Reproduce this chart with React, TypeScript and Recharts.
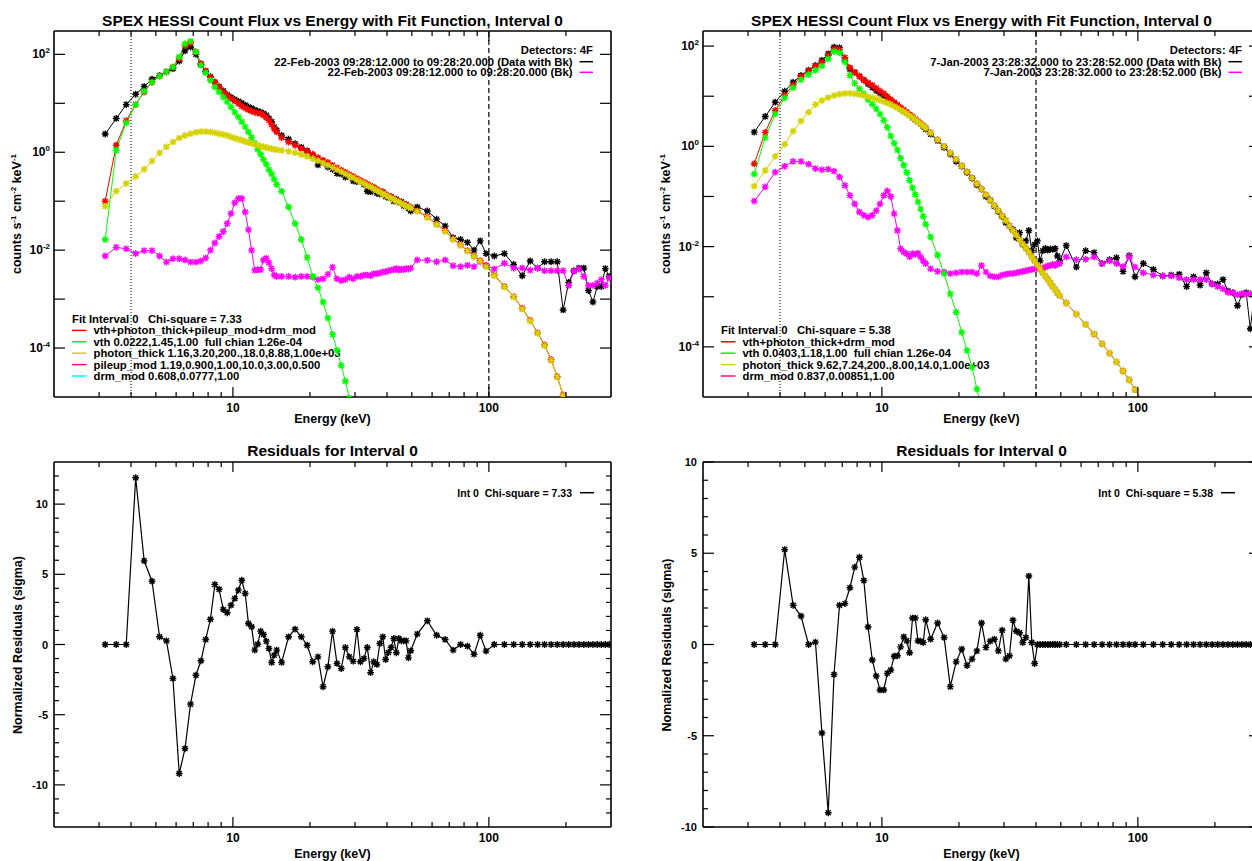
import React from "react";
import { LineChart, Line, XAxis, YAxis, ReferenceLine } from "recharts";

// energy bin centres (keV), shared by all four panels
const energy = [
  3.17, 3.5, 3.83, 4.17, 4.5, 4.83, 5.17, 5.5, 5.83, 6.17, 6.5, 6.83,
  7.17, 7.5, 7.83, 8.17, 8.5, 8.83, 9.17, 9.5, 9.83, 10.17, 10.5, 10.83,
  11.17, 11.5, 11.83, 12.17, 12.5, 12.83, 13.17, 13.5, 13.83, 14.17, 14.5, 14.83,
  15.5, 16.5, 17.5, 18.5, 19.5, 20.5, 21.5, 22.5, 23.5, 24.5,
  25.5, 26.5, 27.5, 28.5, 29.5, 30.5, 31.5, 32.5, 33.5, 34.5,
  35.5, 36.5, 37.5, 38.5, 39.5, 40.5, 41.5, 42.5, 43.5, 44.5,
  45.5, 46.5, 47.5, 48.5, 49.5,
  52.5, 57.5, 62.5, 67.5, 72.5, 77.5, 82.5, 87.5, 92.5, 97.5,
  105, 115, 125, 135, 145, 155, 165, 175, 185, 195,
  205, 215, 225, 235, 245, 255, 265, 275, 285, 295,
];

// 22-Feb-2003 interval (left column)
const febData = [
  2.36, 4.9, 9.4, 15.3, 22, 31, 37, 44, 51, 73, 118, 141,
  100, 62, 45, 35, 27, 22, 18, 15, 13.3, 12, 11, 10.1,
  9.2, 8.4, 7.9, 7.3, 6.9, 6.6, 6.2, 5.7, 4.9, 4.2, 3.3, 2.8,
  2.2, 1.85, 1.5, 1.26, 1.07, 0.87, 0.55, 0.62, 0.5, 0.45,
  0.37, 0.36, 0.31, 0.33, 0.26, 0.25, 0.26, 0.22, 0.16, 0.155,
  0.19, 0.145, 0.14, 0.155, 0.125, 0.118, 0.124, 0.1, 0.11, 0.094,
  0.098, 0.08, 0.086, 0.072, 0.063,
  0.076, 0.063, 0.043, 0.031, 0.018, 0.0166, 0.0144, 0.01, 0.0155, 0.0085,
  0.0076, 0.0085, 0.0051, 0.003, 0.006, 0.0043, 0.0058, 0.0058, 0.0058, 0.0006,
  0.0022, 0.0038, 0.0043, 0.0043, 0.0015, 0.00087, 0.0018, 0.0018, 0.0042, 0.0029,
];
const febModel = [
  0.1, 1.39, 4.4, 9.5, 17, 27, 36, 44, 55, 82, 152, 170,
  112, 65, 46, 34, 27, 21.5, 17, 14.5, 12.5, 11.2, 9.9, 8.7,
  8.0, 7.4, 6.9, 6.6, 6.3, 6.2, 5.7, 5.1, 4.5, 3.7, 3.0, 2.6,
  2.0, 1.62, 1.39, 1.19, 1.05, 0.91, 0.78, 0.69, 0.62, 0.54,
  0.48, 0.43, 0.39, 0.35, 0.32, 0.29, 0.265, 0.245, 0.225, 0.207,
  0.19, 0.175, 0.162, 0.15, 0.139, 0.129, 0.12, 0.112, 0.105, 0.099,
  0.093, 0.088, 0.083, 0.079, 0.075,
  0.064, 0.048, 0.034, 0.025, 0.017, 0.0128, 0.0098, 0.0076, 0.0061, 0.0048,
  0.0031, 0.0018, 0.00112, 0.00065, 0.00037, 0.000205, 0.000116, 0.000058, 0.000026, 0.000011,
  0.0000047,
];
const febVth = [
  0.0165, 1.1, 4.0, 9.4, 17.8, 27, 36, 44, 55, 88, 165, 185,
  112, 60, 42, 29.5, 21.5, 17, 13.5, 10.7, 8.4, 6.6, 5.3, 4.2,
  3.3, 2.6, 2.0, 1.52, 1.15, 0.91, 0.71, 0.57, 0.44, 0.36, 0.28, 0.22,
  0.16, 0.076, 0.035, 0.0165, 0.0071, 0.0029, 0.0017, 0.00087, 0.00041, 0.00019,
  0.00009, 0.000044, 0.000021, 0.0000095, 0.000004,
];
const febThick = [
  0.079, 0.16, 0.23, 0.32, 0.45, 0.66, 0.97, 1.29, 1.62, 1.95, 2.2, 2.4,
  2.55, 2.65, 2.65, 2.6, 2.5, 2.4, 2.3, 2.2, 2.05, 1.94, 1.84, 1.76,
  1.66, 1.59, 1.52, 1.45, 1.39, 1.33, 1.28, 1.25, 1.21, 1.18, 1.15, 1.13,
  1.09, 1.04, 0.98, 0.9, 0.82, 0.74, 0.67, 0.6, 0.54, 0.49,
  0.44, 0.4, 0.36, 0.33, 0.3, 0.27, 0.25, 0.23, 0.21, 0.195,
  0.18, 0.165, 0.153, 0.142, 0.132, 0.123, 0.115, 0.108, 0.101, 0.095,
  0.09, 0.085, 0.08, 0.076, 0.072,
  0.062, 0.046, 0.033, 0.024, 0.0165, 0.0125, 0.0095, 0.0074, 0.0059, 0.0046,
  0.003, 0.00175, 0.0011, 0.00063, 0.00036, 0.0002, 0.000112, 0.000056, 0.0000255, 0.0000107,
  0.0000045,
];
const febBk = [
  0.0076, 0.0114, 0.0107, 0.0085, 0.0098, 0.0098, 0.0076, 0.0057, 0.0067, 0.0067, 0.0063, 0.0057,
  0.0057, 0.006, 0.0069, 0.01, 0.014, 0.019, 0.024, 0.035, 0.056, 0.093, 0.114, 0.114,
  0.06, 0.026, 0.01, 0.0039, 0.004, 0.004, 0.0063, 0.0068, 0.0055, 0.0042, 0.0031, 0.0029,
  0.0029, 0.0029, 0.0028, 0.0029, 0.0029, 0.0028, 0.0025, 0.0026, 0.0032, 0.0045,
  0.0026, 0.0024, 0.0025, 0.0028, 0.0026, 0.0029, 0.0029, 0.0031, 0.0031, 0.003,
  0.0033, 0.0033, 0.0034, 0.0036, 0.0036, 0.0038, 0.0039, 0.004, 0.0042, 0.0039,
  0.0041, 0.004, 0.0042, 0.0041, 0.0043,
  0.0063, 0.0062, 0.0058, 0.0063, 0.0048, 0.0046, 0.0049, 0.0046, 0.0058, 0.0049,
  0.0041, 0.0054, 0.0043, 0.0043, 0.0039, 0.0043, 0.0038, 0.0038, 0.0038, 0.0038,
  0.0019, 0.0037, 0.0041, 0.0029, 0.0019, 0.0019, 0.0021, 0.0025, 0.0019, 0.0027,
];
const febResid = [
  0, 0, 0, 11.88, 5.96, 4.51, 0.55, 0.26, -2.42, -9.19, -7.41, -4.25,
  -2.19, -1.16, 0.36, 1.8, 4.28, 3.94, 2.49, 2.26, 2.8, 3.28, 3.87, 4.58,
  3.63, 1.5, 1.26, -0.4, 0.02, 0.95, 0.71, 0.24, -0.29, -1.28, -0.76, -0.4,
  -1.28, 0.55, 1.09, 0.55, -0.05, -1.23, -0.88, -3.01, -1.59, 0.95,
  -1.35, -1.71, -0.21, -0.88, -1.19, 1.07, -1.23, -1.0, -0.21, -2.0,
  -1.23, -1.42, 0.07, 0.55, -1.07, -0.57, -0.21, 0.43, -0.59, 0.43,
  0.26, 0.26, 0.26, -0.95, -0.45,
  0.74, 1.69, 0.66, 0.36, -0.4, 0, -0.12, -0.69, 0.66, -0.47,
  0, 0, 0, 0, 0, 0, 0, 0, 0, 0,
  0, 0, 0, 0, 0, 0, 0, 0, 0, 0,
];

// 7-Jan-2003 interval (right column)
const janData = [
  1.92, 3.95, 7.6, 12.6, 19, 26, 33, 41, 52, 70, 95, 93,
  52, 35, 30, 25, 21, 17.5, 15, 13, 11.6, 10.2, 9.0, 7.9,
  7.0, 6.3, 5.6, 5.0, 4.6, 4.2, 3.7, 3.4, 3.1, 2.8, 2.5, 2.2,
  1.75, 1.3, 0.95, 0.7, 0.5, 0.4, 0.3, 0.23, 0.17, 0.14,
  0.1, 0.085, 0.064, 0.05, 0.04, 0.03, 0.026, 0.022, 0.015, 0.019,
  0.011, 0.013, 0.021, 0.0083, 0.011, 0.013, 0.0052, 0.0083, 0.0092, 0.0085,
  0.009, 0.0088, 0.0092, 0.0065, 0.0052,
  0.0105, 0.0039, 0.0083, 0.0076, 0.0046, 0.0055, 0.006, 0.0032, 0.0066, 0.0025,
  0.0046, 0.0035, 0.0026, 0.0027, 0.0028, 0.0016, 0.0025, 0.0017, 0.003, 0.0018,
  0.0018, 0.0022, 0.0013, 0.0012, 0.00066, 0.0011, 0.0012, 0.00023, 0.0011, 0.0009,
];
const janModel = [
  0.45, 1.9, 5.2, 10.4, 16.8, 24.7, 32, 40, 48, 65, 88, 85,
  59, 37, 30, 25, 21, 18.6, 16.5, 14.4, 12.7, 11.3, 9.9, 8.6,
  7.6, 6.75, 5.96, 5.36, 4.82, 4.33, 3.92, 3.52, 3.18, 2.86, 2.6, 2.34,
  1.87, 1.36, 1.0, 0.74, 0.55, 0.41, 0.31, 0.235, 0.18, 0.14,
  0.108, 0.084, 0.066, 0.052, 0.041, 0.033, 0.026, 0.021, 0.017, 0.0138,
  0.0113, 0.0093, 0.0077, 0.0063, 0.0052, 0.0043, 0.0036, 0.003, 0.0026, 0.0022,
  0.0019, 0.0016, 0.0014, 0.0012, 0.00105,
  0.00075, 0.00045, 0.00028, 0.00018, 0.000115, 0.000075, 0.00005, 0.000033, 0.000022, 0.000014,
  0.000008,
];
const janVth = [
  0.28, 1.5, 4.4, 9.3, 14.8, 21.5, 27, 33, 40, 56, 78, 74,
  48, 26, 18, 14, 11.2, 8.6, 6.9, 5.6, 4.4, 3.3, 2.4, 1.6,
  1.15, 0.85, 0.58, 0.42, 0.3, 0.21, 0.15, 0.11, 0.078, 0.056, 0.04, 0.028,
  0.0155, 0.0068, 0.0029, 0.00114, 0.00049, 0.000195, 0.000085, 0.000039, 0.0000144, 0.000006,
];
const janThick = [
  0.16, 0.33, 0.63, 1.1, 2.0, 3.2, 4.8, 6.8, 8.2, 9.4, 10.3, 11.0,
  11.3, 11.4, 11.2, 10.8, 10.3, 9.8, 9.3, 8.8, 8.3, 7.8, 7.3, 6.8,
  6.3, 5.8, 5.3, 4.9, 4.5, 4.1, 3.75, 3.4, 3.1, 2.8, 2.55, 2.3,
  1.85, 1.35, 1.0, 0.74, 0.55, 0.41, 0.31, 0.235, 0.18, 0.14,
  0.108, 0.084, 0.066, 0.052, 0.041, 0.033, 0.026, 0.021, 0.017, 0.0138,
  0.0113, 0.0093, 0.0077, 0.0063, 0.0052, 0.0043, 0.0036, 0.003, 0.0026, 0.0022,
  0.0019, 0.0016, 0.0014, 0.0012, 0.00105,
  0.00075, 0.00045, 0.00028, 0.00018, 0.000115, 0.000075, 0.00005, 0.000033, 0.000022, 0.000014,
  0.000008,
];
const janBk = [
  0.081, 0.155, 0.305, 0.4, 0.5, 0.5, 0.44, 0.36, 0.34, 0.35, 0.32, 0.245,
  0.166, 0.105, 0.071, 0.049, 0.042, 0.039, 0.042, 0.052, 0.071, 0.105, 0.129, 0.1,
  0.045, 0.021, 0.0091, 0.0078, 0.0072, 0.0063, 0.0072, 0.007, 0.0074, 0.0062, 0.0052, 0.0046,
  0.0036, 0.0032, 0.0031, 0.0029, 0.003, 0.0031, 0.0031, 0.0031, 0.0029, 0.0042,
  0.0031, 0.0026, 0.0025, 0.0025, 0.0027, 0.0028, 0.0029, 0.0029, 0.003, 0.0031,
  0.0032, 0.0033, 0.0034, 0.0035, 0.0036, 0.0037, 0.0038, 0.0036, 0.0039, 0.0041,
  0.0042, 0.0044, 0.0042, 0.0045, 0.0046,
  0.0062, 0.0055, 0.0056, 0.0062, 0.0046, 0.0052, 0.0046, 0.004, 0.0062, 0.0039,
  0.003, 0.0027, 0.0026, 0.0026, 0.0024, 0.0022, 0.0022, 0.0022, 0.0022, 0.0018,
  0.0016, 0.00145, 0.00123, 0.0012, 0.0011, 0.00115, 0.00112, 0.00115, 0.0011, 0.001,
];
const janResid = [
  0, 0, 0, 5.2, 2.15, 1.56, 0, 0.13, -4.85, -9.22, -1.64, 2.15,
  2.24, 3.11, 4.24, 4.78, 3.51, 0.96, -0.85, -1.73, -2.49, -2.49, -1.58, -1.4,
  -0.64, -0.62, -0.13, 0.42, 0.2, -0.45, 1.45, 1.45, 0.2, 0.18, 0.11, 1.36,
  0.29, 1.18, 0.38, -2.31, -0.95, -0.25, -1.15, -0.8, -0.35, 1.18,
  -0.16, 0.18, 0.29, -0.35, 0.78, -0.8, -0.62, 1.33, 0.73, 0.64,
  0.11, 0.38, 3.75, 0.11, -1.04, 0, 0, 0, 0, 0,
  0, 0, 0, 0, 0,
  0, 0, 0, 0, 0, 0, 0, 0, 0, 0,
  0, 0, 0, 0, 0, 0, 0, 0, 0, 0,
  0, 0, 0, 0, 0, 0, 0, 0, 0, 0,
];

const energyTicks = [3, 4, 5, 6, 7, 8, 9, 10, 20, 30, 40, 50, 60, 70, 80, 90, 100, 200];
const fluxTicks = [1e-4, 1e-3, 1e-2, 1e-1, 1, 10, 100];
const febResidTicks = [-12, -11, -10, -9, -8, -7, -6, -5, -4, -3, -2, -1, 0, 1, 2, 3, 4, 5, 6, 7, 8, 9, 10, 11, 12];
const janResidTicks = [-10, -9, -8, -7, -6, -5, -4, -3, -2, -1, 0, 1, 2, 3, 4, 5, 6, 7, 8, 9, 10];

const FONT = "'Liberation Sans', Arial, Helvetica, sans-serif";
const RED = "#ff0000";
const GREEN = "#00ff00";
const YELLOW = "#d6d200";
const MAGENTA = "#ff00ff";
const PINK = "#ff0a7a";
const CYAN = "#00ffff";
const FRAME = { stroke: "#000", strokeWidth: 1.6 };
const PLOT_W = 557;
const AXIS_PX = 1; // axes need a non-zero size to be drawn

const txt = (size: number) => ({
  fontSize: size,
  fontWeight: "bold" as const,
  fontFamily: FONT,
  fill: "#000",
  style: { whiteSpace: "pre" as const },
});

// IDL psym=2 asterisk
function star(color: string) {
  return (p: any) => {
    const { cx, cy, index } = p;
    if (cx == null || cy == null || Number.isNaN(cx) || Number.isNaN(cy)) return <g key={`s${index}`} />;
    const r = 3.4;
    const d = 2.5;
    return (
      <path
        key={`s${index}`}
        d={`M${cx - r},${cy}H${cx + r}M${cx},${cy - r}V${cy + r}M${cx - d},${cy - d}L${cx + d},${cy + d}M${cx - d},${cy + d}L${cx + d},${cy - d}`}
        stroke={color}
        strokeWidth={1.4}
        fill="none"
      />
    );
  };
}

function xTick(side: "bottom" | "top", withLabel: boolean) {
  return (p: any) => {
    const v = p.payload.value;
    const major = v === 10 || v === 100;
    const len = major ? 10 : 5;
    return (
      <g>
        <line x1={p.x} x2={p.x} y1={p.y} y2={side === "bottom" ? p.y - len : p.y + len} stroke="#000" strokeWidth={1.2} />
        {withLabel && major ? (
          <text x={p.x} y={p.y + 15} textAnchor="middle" {...txt(12)}>
            {v}
          </text>
        ) : null}
      </g>
    );
  };
}

function logYTick(side: "left" | "right") {
  return (p: any) => {
    const v = p.payload.value;
    const ex = Math.round(Math.log10(v));
    const dx = side === "left" ? 11 : -11;
    return (
      <g>
        <line x1={p.x} x2={p.x + dx} y1={p.y} y2={p.y} stroke="#000" strokeWidth={1.2} />
        {side === "left" && ex % 2 === 0 ? (
          <text x={p.x - 4} y={p.y + 4} textAnchor="end" {...txt(12)}>
            10
            <tspan dy={-5} fontSize={8}>
              {ex}
            </tspan>
          </text>
        ) : null}
      </g>
    );
  };
}

function residYTick(side: "left" | "right") {
  return (p: any) => {
    const v = p.payload.value;
    const major = v % 5 === 0;
    const len = major ? 11 : 5;
    const dx = side === "left" ? len : -len;
    return (
      <g>
        <line x1={p.x} x2={p.x + dx} y1={p.y} y2={p.y} stroke="#000" strokeWidth={1.2} />
        {side === "left" && major ? (
          <text x={p.x - 6} y={p.y + 4} textAnchor="end" {...txt(11)}>
            {v}
          </text>
        ) : null}
      </g>
    );
  };
}

const xAxisCommon = {
  dataKey: "e",
  type: "number" as const,
  scale: "log" as const,
  domain: [2, 300],
  allowDataOverflow: true,
  ticks: energyTicks,
  interval: 0,
  height: AXIS_PX,
  tickSize: 0,
  tickMargin: 0,
  tickLine: false,
  axisLine: FRAME,
};

type FitLine = { color: string; text: string };

type SpectrumProps = {
  left: number;
  width: number;
  plotLeft: number;
  yTop: number;
  dashAt: number;
  data: number[];
  model: number[];
  vth: number[];
  thick: number[];
  bk: number[];
  chi: string;
  fitLines: FitLine[];
  date: string;
  timeRange: string;
};

function SpectrumPanel(props: SpectrumProps) {
  const { plotLeft, width } = props;
  const plotRight = plotLeft + PLOT_W;
  const cx = plotLeft + PLOT_W / 2;
  const rows = energy.map((e, i) => ({
    e,
    data: props.data[i] ?? null,
    model: props.model[i] ?? null,
    vth: props.vth[i] ?? null,
    thick: props.thick[i] ?? null,
    bk: props.bk[i] ?? null,
  }));
  const yAxisCommon = {
    type: "number" as const,
    scale: "log" as const,
    domain: [1e-5, props.yTop],
    allowDataOverflow: true,
    ticks: fluxTicks,
    interval: 0,
    width: AXIS_PX,
    tickSize: 0,
    tickMargin: 0,
    tickLine: false,
    axisLine: FRAME,
  };
  const n = props.fitLines.length;
  const headY = 376 - n * 11.4;
  return (
    <div style={{ position: "absolute", left: props.left, top: 0 }}>
      <LineChart
        width={width}
        height={430}
        data={rows}
        margin={{
          top: 31 - AXIS_PX,
          right: width - plotRight - AXIS_PX,
          bottom: 33 - AXIS_PX,
          left: plotLeft - AXIS_PX,
        }}
      >
        <XAxis {...xAxisCommon} tick={xTick("bottom", true)} />
        <XAxis {...xAxisCommon} xAxisId="top" orientation="top" tick={xTick("top", false)} />
        <YAxis {...yAxisCommon} tick={logYTick("left")} />
        <YAxis {...yAxisCommon} yAxisId="right" orientation="right" tick={logYTick("right")} />
        <ReferenceLine x={4} stroke="#000" strokeWidth={1} strokeDasharray="1 2" />
        <ReferenceLine x={props.dashAt} stroke="#000" strokeWidth={1.2} strokeDasharray="5 3" />
        <Line type="linear" dataKey="data" stroke="#000" strokeWidth={1} dot={star("#000")} activeDot={false} isAnimationActive={false} />
        <Line type="linear" dataKey="bk" stroke={MAGENTA} strokeWidth={1} dot={star(MAGENTA)} activeDot={false} isAnimationActive={false} />
        <Line type="linear" dataKey="model" stroke={RED} strokeWidth={1} dot={star(RED)} activeDot={false} isAnimationActive={false} />
        <Line type="linear" dataKey="vth" stroke={GREEN} strokeWidth={1} dot={star(GREEN)} activeDot={false} isAnimationActive={false} />
        <Line type="linear" dataKey="thick" stroke={YELLOW} strokeWidth={1} dot={star(YELLOW)} activeDot={false} isAnimationActive={false} />

        <text x={cx} y={25.5} textAnchor="middle" {...txt(15.5)}>
          SPEX HESSI Count Flux vs Energy with Fit Function, Interval 0
        </text>
        <text x={cx} y={422.5} textAnchor="middle" {...txt(12.5)}>
          Energy (keV)
        </text>
        <text
          x={plotLeft - 33}
          y={214}
          textAnchor="middle"
          transform={`rotate(-90 ${plotLeft - 33} 214)`}
          {...txt(12.5)}
        >
          counts s<tspan dy={-5} fontSize={8}>-1</tspan>
          <tspan dy={5}>{" cm"}</tspan>
          <tspan dy={-5} fontSize={8}>-2</tspan>
          <tspan dy={5}>{" keV"}</tspan>
          <tspan dy={-5} fontSize={8}>-1</tspan>
        </text>

        <text x={plotRight - 18} y={54} textAnchor="end" {...txt(11.3)}>
          Detectors: 4F
        </text>
        <text x={plotRight - 38.5} y={65.7} textAnchor="end" {...txt(11.3)}>
          {`${props.date} ${props.timeRange} (Data with Bk)`}
        </text>
        <line x1={plotRight - 31.5} x2={plotRight - 18} y1={61.7} y2={61.7} stroke="#000" strokeWidth={1.5} />
        <text x={plotRight - 38.5} y={76.3} textAnchor="end" {...txt(11.3)}>
          {`${props.date} ${props.timeRange} (Bk)`}
        </text>
        <line x1={plotRight - 31.5} x2={plotRight - 18} y1={72.3} y2={72.3} stroke={MAGENTA} strokeWidth={1.5} />

        <text x={plotLeft + 18} y={headY + 4} {...txt(11.3)}>
          {`Fit Interval 0   Chi-square = ${props.chi}`}
        </text>
        {props.fitLines.map((f, i) => {
          const y = headY + 11.4 * (i + 1);
          return (
            <g key={f.text}>
              <line x1={plotLeft + 18} x2={plotLeft + 32.5} y1={y} y2={y} stroke={f.color} strokeWidth={1.5} />
              <text x={plotLeft + 39.5} y={y + 4} {...txt(11.3)}>
                {f.text}
              </text>
            </g>
          );
        })}
      </LineChart>
    </div>
  );
}

type ResidProps = {
  left: number;
  width: number;
  plotLeft: number;
  yMax: number;
  ticks: number[];
  resid: number[];
  yLabel: string;
  chi: string;
  legendEnd: number;
};

function ResidualPanel(props: ResidProps) {
  const { plotLeft, width } = props;
  const plotRight = plotLeft + PLOT_W;
  const cx = plotLeft + PLOT_W / 2;
  const rows = energy.map((e, i) => ({ e, resid: props.resid[i] }));
  const yAxisCommon = {
    type: "number" as const,
    domain: [-props.yMax, props.yMax],
    allowDataOverflow: true,
    ticks: props.ticks,
    interval: 0,
    width: AXIS_PX,
    tickSize: 0,
    tickMargin: 0,
    tickLine: false,
    axisLine: FRAME,
  };
  return (
    <div style={{ position: "absolute", left: props.left, top: 430 }}>
      <LineChart
        width={width}
        height={431}
        data={rows}
        margin={{
          top: 32 - AXIS_PX,
          right: width - plotRight - AXIS_PX,
          bottom: 34 - AXIS_PX,
          left: plotLeft - AXIS_PX,
        }}
      >
        <XAxis {...xAxisCommon} tick={xTick("bottom", true)} />
        <XAxis {...xAxisCommon} xAxisId="top" orientation="top" tick={xTick("top", false)} />
        <YAxis {...yAxisCommon} tick={residYTick("left")} />
        <YAxis {...yAxisCommon} yAxisId="right" orientation="right" tick={residYTick("right")} />
        <Line type="linear" dataKey="resid" stroke="#000" strokeWidth={1.2} dot={star("#000")} activeDot={false} isAnimationActive={false} />

        <text x={cx} y={25.5} textAnchor="middle" {...txt(15.5)}>
          Residuals for Interval 0
        </text>
        <text x={cx} y={427.5} textAnchor="middle" {...txt(12.5)}>
          Energy (keV)
        </text>
        <text
          x={plotLeft - 32}
          y={215}
          textAnchor="middle"
          transform={`rotate(-90 ${plotLeft - 32} 215)`}
          {...txt(12.5)}
        >
          {props.yLabel}
        </text>
        <text x={props.legendEnd} y={66.5} textAnchor="end" {...txt(10.5)}>
          {`Int 0  Chi-square = ${props.chi}`}
        </text>
        <line x1={props.legendEnd + 8} x2={props.legendEnd + 22} y1={62.7} y2={62.7} stroke="#000" strokeWidth={1.5} />
      </LineChart>
    </div>
  );
}

const febFit: FitLine[] = [
  { color: RED, text: "vth+photon_thick+pileup_mod+drm_mod" },
  { color: GREEN, text: "vth 0.0222,1.45,1.00  full chian 1.26e-04" },
  { color: YELLOW, text: "photon_thick 1.16,3.20,200.,18.0,8.88,1.00e+03" },
  { color: PINK, text: "pileup_mod 1.19,0.900,1.00,10.0,3.00,0.500" },
  { color: CYAN, text: "drm_mod 0.608,0.0777,1.00" },
];
const janFit: FitLine[] = [
  { color: RED, text: "vth+photon_thick+drm_mod" },
  { color: GREEN, text: "vth 0.0403,1.18,1.00  full chian 1.26e-04" },
  { color: YELLOW, text: "photon_thick 9.62,7.24,200.,8.00,14.0,1.00e+03" },
  { color: PINK, text: "drm_mod 0.837,0.00851,1.00" },
];

export default function App() {
  return (
    <div
      style={{
        position: "absolute",
        left: 0,
        top: 0,
        width: 1252,
        height: 861,
        overflow: "hidden",
        background: "#fff",
      }}
    >
      <SpectrumPanel
        left={0}
        width={626}
        plotLeft={54}
        yTop={300}
        dashAt={100}
        data={febData}
        model={febModel}
        vth={febVth}
        thick={febThick}
        bk={febBk}
        chi="7.33"
        fitLines={febFit}
        date="22-Feb-2003"
        timeRange="09:28:12.000 to 09:28:20.000"
      />
      <SpectrumPanel
        left={626}
        width={650}
        plotLeft={77}
        yTop={200}
        dashAt={40}
        data={janData}
        model={janModel}
        vth={janVth}
        thick={janThick}
        bk={janBk}
        chi="5.38"
        fitLines={janFit}
        date="7-Jan-2003"
        timeRange="23:28:32.000 to 23:28:52.000"
      />
      <ResidualPanel
        left={0}
        width={626}
        plotLeft={54}
        yMax={13}
        ticks={febResidTicks}
        resid={febResid}
        yLabel="Normalized Residuals (sigma)"
        chi="7.33"
        legendEnd={572}
      />
      <ResidualPanel
        left={626}
        width={650}
        plotLeft={77}
        yMax={10}
        ticks={janResidTicks}
        resid={janResid}
        yLabel="Nomalized Residuals (sigma)"
        chi="5.38"
        legendEnd={587}
      />
    </div>
  );
}
